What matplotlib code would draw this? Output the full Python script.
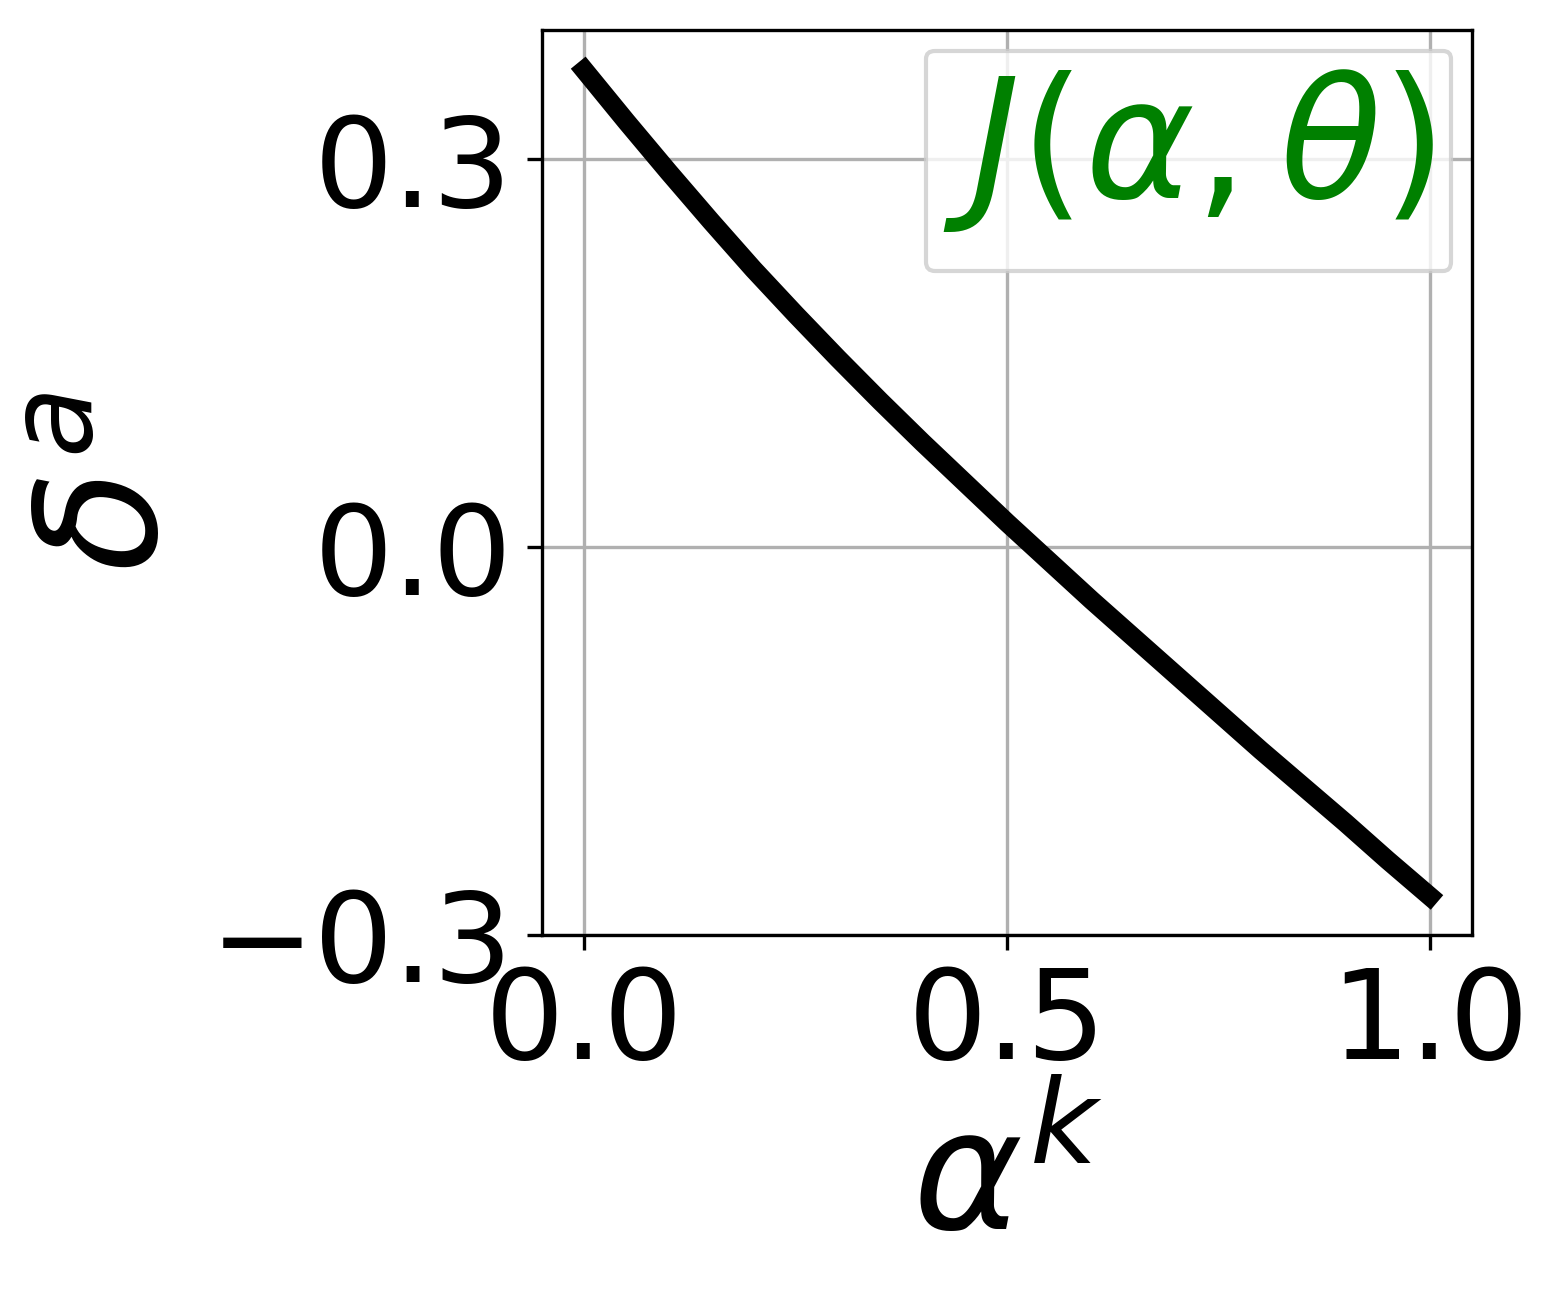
import numpy as np
import matplotlib
matplotlib.use("Agg")
import matplotlib.pyplot as plt
from matplotlib.lines import Line2D

# values
alpha_k = [0.00, 0.05, 0.10, 0.15, 0.20, 0.25, 0.30, 0.35, 0.40, 0.45, 0.50,
           0.55, 0.60, 0.65, 0.70, 0.75, 0.80, 0.85, 0.90, 0.95, 1.00]
delta_a = [0.369, 0.329, 0.290, 0.252, 0.215, 0.180, 0.146, 0.113, 0.081, 0.050, 0.019,
           -0.011, -0.041, -0.070, -0.099, -0.128, -0.157, -0.185, -0.213, -0.242, -0.270]

x_ticks = [0.0, 0.5, 1.0]
y_ticks = [-0.3, 0.0, 0.3]
legend_label = r'$J(\alpha,\theta)$'

fig = plt.figure(figsize=(1559 / 300, 1295 / 300), dpi=300)
ax = fig.add_axes([542 / 1559, 1 - 935 / 1295, 930 / 1559, 905 / 1295])

ax.plot(alpha_k, delta_a, color='black', linewidth=4.6, solid_capstyle='projecting')

ax.set_ylim(-0.3, 0.4)
ax.set_xticks(x_ticks)
ax.set_yticks(y_ticks)
ax.tick_params(labelsize=30)
ax.grid(True)

ax.set_xlabel(r'$\alpha^k$', fontsize=40)
ax.set_ylabel(r'$\delta^a$', fontsize=40)

leg = ax.legend(handles=[Line2D([], [], linestyle='none')], labels=[legend_label],
                loc='upper right', labelcolor='green',
                handlelength=0, handletextpad=0, handleheight=4.5)
for t in leg.get_texts():
    t.set_fontsize(40)

fig.savefig('out.png', dpi=300)
